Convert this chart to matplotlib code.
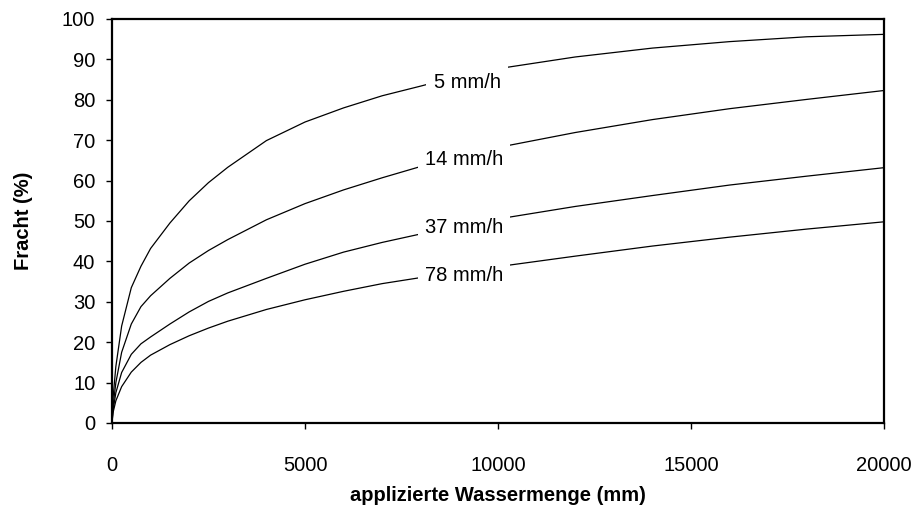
import matplotlib
matplotlib.use("Agg")
import matplotlib.pyplot as plt

plt.rcParams['font.family'] = ['Liberation Sans', 'DejaVu Sans']

# Data (applied water amount in mm, load in %)
x_mm = [0, 25, 100, 250, 500, 750, 1000, 1500, 2000, 2500, 3000, 4000, 5000,
        6000, 7000, 8000, 9000, 10000, 12000, 14000, 16000, 18000, 20000]

y_5 = [0, 6, 14, 24, 33.5, 38.8, 43.2, 49.5, 55, 59.5, 63.3, 69.9, 74.5,
       78, 81, 83.4, 85.9, 87.7, 90.6, 92.8, 94.4, 95.6, 96.2]
y_14 = [0, 4, 10, 17.5, 24.5, 28.8, 31.5, 35.8, 39.6, 42.7, 45.4, 50.3, 54.3,
        57.7, 60.7, 63.5, 66, 68.2, 71.9, 75.1, 77.8, 80.1, 82.3]
y_37 = [0, 3, 7.5, 12.5, 17, 19.6, 21.3, 24.5, 27.5, 30.1, 32.2, 35.8, 39.3,
        42.3, 44.7, 46.8, 48.7, 50.5, 53.6, 56.3, 58.9, 61.1, 63.2]
y_78 = [0, 2.5, 5.5, 9, 12.6, 15, 16.8, 19.4, 21.6, 23.5, 25.2, 28.1, 30.5,
        32.6, 34.5, 36.0, 37.4, 38.7, 41.3, 43.8, 46.0, 48.0, 49.8]

labels = ["5 mm/h", "14 mm/h", "37 mm/h", "78 mm/h"]
label_x = [9197, 9119, 9119, 9119]
label_y = [84.2, 65.3, 48.3, 36.6]

x_ticks = [0, 5000, 10000, 15000, 20000]
y_ticks = list(range(0, 101, 10))

fig = plt.figure(figsize=(9.17, 5.12), dpi=100)
ax = fig.add_axes([112/917, 1-423/512, (884-112)/917, (423-19)/512])

for ys in [y_5, y_14, y_37, y_78]:
    ax.plot(x_mm, ys, color='black', lw=0.9)

for t, lx, ly in zip(labels, label_x, label_y):
    ax.text(lx, ly, t, ha='center', va='center', fontsize=14.5, color='black',
            bbox=dict(boxstyle='square,pad=0.35', fc='white', ec='none'), zorder=5)

ax.set_xlim(0, 20000)
ax.set_ylim(0, 100)
ax.set_xticks(x_ticks)
ax.set_yticks(y_ticks)
ax.tick_params(axis='both', direction='out', length=4.5, width=1, labelsize=14.5, colors='black')
ax.tick_params(axis='y', pad=7.5)
ax.tick_params(axis='x', pad=19)
for s in ax.spines.values():
    s.set_linewidth(1.6)
    s.set_color('black')

ax.set_xlabel("applizierte Wassermenge (mm)", fontsize=14.5, fontweight='bold', labelpad=8)
ax.set_ylabel("Fracht (%)", fontsize=14.5, fontweight='bold', labelpad=21)

fig.savefig("out.png", dpi=100)
